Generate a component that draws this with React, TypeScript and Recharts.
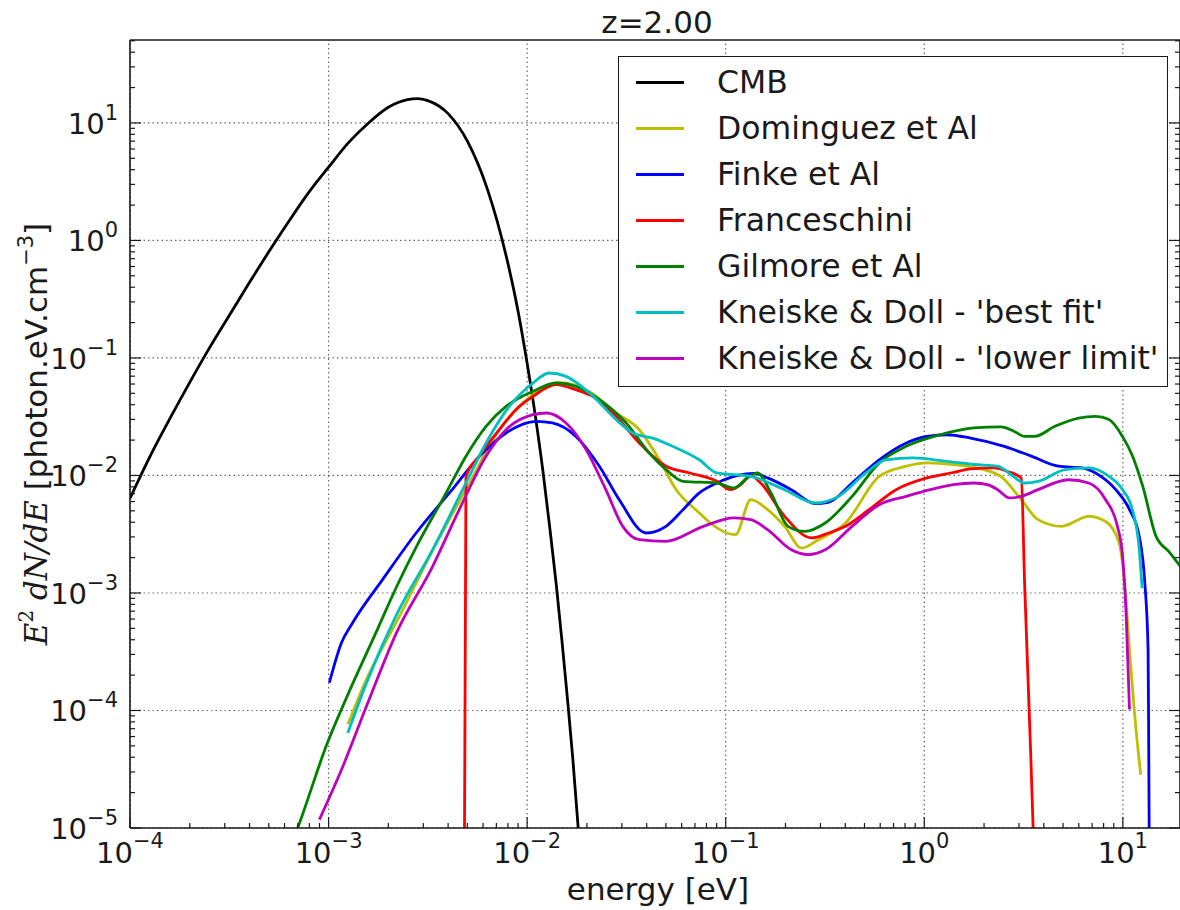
import React from "react";
import { LineChart, Line, XAxis, YAxis, ReferenceLine, Legend } from "recharts";

// axis ranges (right edge sits a bit short of 20 eV)
const X_MIN = 1e-4;
const X_MAX = 19.4;
const Y_MIN = 1e-5;
const Y_MAX = 50.8;

const X_MAJOR = [1e-4, 1e-3, 1e-2, 1e-1, 1, 10];
const Y_MAJOR = [1e-5, 1e-4, 1e-3, 1e-2, 1e-1, 1, 10];
const MINOR_STEPS = [2, 3, 4, 5, 6, 7, 8, 9];
const X_TICKS = [
  ...X_MAJOR,
  ...X_MAJOR.flatMap((d) => MINOR_STEPS.map((m) => m * d)).filter((v) => v < X_MAX),
];
const Y_TICKS = [
  ...Y_MAJOR,
  ...Y_MAJOR.flatMap((d) => MINOR_STEPS.map((m) => m * d)).filter((v) => v < Y_MAX),
];

// energy [eV] / E^2 dN/dE pairs, one pair of arrays per model
const CMB_E = [1e-4, 1.26e-4, 1.58e-4, 2e-4, 2.5e-4, 3.16e-4, 4e-4, 5e-4, 6.3e-4, 8e-4, 1e-3, 1.26e-3, 1.58e-3, 2e-3, 2.5e-3, 2.8e-3, 3.16e-3, 4e-3, 5e-3, 6.3e-3, 7.9e-3, 9e-3, 1e-2, 1.1e-2, 1.2e-2, 1.3e-2, 1.4e-2, 1.5e-2, 1.6e-2, 1.7e-2, 1.8e-2, 1.9e-2];
const CMB_V = [6.4e-3, 1.45e-2, 3.0e-2, 6.2e-2, 0.12, 0.23, 0.44, 0.8, 1.45, 2.6, 4.2, 6.8, 9.9, 13.6, 15.8, 16.1, 15.5, 12.0, 7.0, 2.75, 0.7, 0.25, 0.09, 0.032, 0.011, 3.6e-3, 1.2e-3, 3.8e-4, 1.2e-4, 3.8e-5, 1.1e-5, 3e-6];

const DOM_E = [1.25e-3, 1.55e-3, 2.27e-3, 3.34e-3, 4.92e-3, 7.24e-3, 1.07e-2, 1.45e-2, 2.06e-2, 2.81e-2, 3.67e-2, 4.63e-2, 5.62e-2, 7.36e-2, 8.35e-2, 0.112, 0.1337, 0.1625, 0.198, 0.241, 0.293, 0.401, 0.593, 0.811, 1.03, 1.4, 2.0, 2.43, 3.08, 3.74, 4.92, 6.73, 8.19, 9.58, 10.2, 10.8, 11.65, 12.3];
const DOM_V = [7.6e-5, 1.83e-4, 6.3e-4, 2.3e-3, 7.6e-3, 2.45e-2, 4.87e-2, 6.17e-2, 5.16e-2, 3.4e-2, 2.45e-2, 1.36e-2, 7.6e-3, 4.8e-3, 3.94e-3, 3.13e-3, 6.22e-3, 5.12e-3, 3.69e-3, 2.41e-3, 2.84e-3, 3.94e-3, 9.82e-3, 1.2e-2, 1.28e-2, 1.24e-2, 1.12e-2, 9.82e-3, 6.22e-3, 4.21e-3, 3.69e-3, 4.49e-3, 4.06e-3, 2.67e-3, 1.22e-3, 3.29e-4, 6.9e-5, 2.84e-5];

const FINKE_E = [1.01e-3, 1.16e-3, 1.32e-3, 1.87e-3, 2.76e-3, 4.06e-3, 5.97e-3, 7.83e-3, 1.11e-2, 1.34e-2, 1.76e-2, 2.31e-2, 2.91e-2, 3.97e-2, 5.0e-2, 6.1e-2, 7.36e-2, 9.03e-2, 0.114, 0.139, 0.1625, 0.214, 0.282, 0.329, 0.433, 0.593, 0.779, 1.03, 1.3, 1.71, 2.53, 3.46, 4.73, 6.22, 7.28, 9.21, 10.8, 12.1, 12.9, 13.4, 13.5, 13.6];
const FINKE_V = [1.73e-4, 3.75e-4, 5.56e-4, 1.3e-3, 3.24e-3, 7.1e-3, 1.55e-2, 2.3e-2, 2.89e-2, 2.8e-2, 2.15e-2, 1.2e-2, 6.22e-3, 3.24e-3, 3.69e-3, 5.12e-3, 7.1e-3, 8.63e-3, 9.96e-3, 1.04e-2, 9.53e-3, 7.57e-3, 5.75e-3, 5.9e-3, 8.63e-3, 1.36e-2, 1.83e-2, 2.15e-2, 2.22e-2, 2.08e-2, 1.77e-2, 1.46e-2, 1.2e-2, 1.16e-2, 1.05e-2, 7.57e-3, 5.12e-3, 3.03e-3, 1.22e-3, 3.29e-4, 4.64e-5, 5e-6];

const FRANC_E = [4.83e-3, 4.92e-3, 5.74e-3, 7.24e-3, 8.79e-3, 1.07e-2, 1.4e-2, 1.76e-2, 2.14e-2, 2.81e-2, 3.67e-2, 5.01e-2, 6.6e-2, 9.03e-2, 0.1057, 0.119, 0.1337, 0.15, 0.198, 0.271, 0.33, 0.401, 0.527, 0.721, 1.03, 1.4, 1.71, 2.25, 2.63, 3.08, 3.2, 3.43, 3.58];
const FRANC_V = [5e-6, 9.82e-3, 1.46e-2, 2.45e-2, 3.63e-2, 4.71e-2, 5.93e-2, 5.37e-2, 4.71e-2, 3.18e-2, 1.89e-2, 1.2e-2, 1.05e-2, 8.91e-3, 7.57e-3, 8.35e-3, 9.96e-3, 8.63e-3, 4.49e-3, 2.94e-3, 3.24e-3, 3.69e-3, 5.12e-3, 7.57e-3, 9.53e-3, 1.06e-2, 1.14e-2, 1.16e-2, 1.08e-2, 9.53e-3, 1.22e-3, 4.64e-5, 5e-6];

const GIL_E = [6.2e-4, 6.99e-4, 9.86e-4, 1.24e-3, 1.73e-3, 2.2e-3, 2.77e-3, 3.91e-3, 4.92e-3, 6.21e-3, 7.83e-3, 1.07e-2, 1.4e-2, 1.76e-2, 2.31e-2, 3.15e-2, 4.12e-2, 5.01e-2, 6.1e-2, 9.03e-2, 0.11, 0.1284, 0.1445, 0.169, 0.206, 0.25, 0.317, 0.433, 0.593, 0.811, 1.2, 1.78, 2.43, 2.84, 3.2, 3.6, 4.55, 5.99, 7.28, 8.52, 9.97, 11.2, 12.6, 14.7, 17.1, 20.4];
const GIL_V = [5.9e-6, 1.0e-5, 5.28e-5, 1.32e-4, 4.57e-4, 1.13e-3, 2.48e-3, 7.1e-3, 1.46e-2, 2.62e-2, 3.87e-2, 5.2e-2, 6.12e-2, 5.73e-2, 4.42e-2, 2.8e-2, 1.55e-2, 1.12e-2, 8.91e-3, 8.63e-3, 7.83e-3, 9.53e-3, 1.05e-2, 7.1e-3, 3.69e-3, 3.34e-3, 3.94e-3, 6.64e-3, 1.28e-2, 1.77e-2, 2.22e-2, 2.54e-2, 2.59e-2, 2.37e-2, 2.15e-2, 2.15e-2, 2.62e-2, 3.08e-2, 3.18e-2, 2.99e-2, 2.14e-2, 1.46e-2, 8.07e-3, 3.03e-3, 2.24e-3, 1.52e-3];

const KD_BEST_E = [1.25e-3, 1.55e-3, 2.2e-3, 3.34e-3, 4.92e-3, 6.21e-3, 8.13e-3, 1.07e-2, 1.29e-2, 1.57e-2, 2.06e-2, 2.81e-2, 3.4e-2, 4.29e-2, 5.4e-2, 7.36e-2, 9.03e-2, 0.1337, 0.198, 0.282, 0.37, 0.507, 0.641, 0.877, 1.3, 1.78, 2.34, 2.73, 3.2, 3.74, 5.12, 6.73, 8.52, 9.97, 11.2, 12.1, 12.5];
const KD_BEST_V = [6.44e-5, 1.71e-4, 6.53e-4, 2.33e-3, 8.63e-3, 1.89e-2, 3.87e-2, 6.12e-2, 7.45e-2, 6.97e-2, 5.04e-2, 2.99e-2, 2.3e-2, 2.08e-2, 1.77e-2, 1.36e-2, 1.05e-2, 9.82e-3, 7.57e-3, 5.83e-3, 6.64e-3, 1.05e-2, 1.36e-2, 1.41e-2, 1.32e-2, 1.24e-2, 1.2e-2, 1.02e-2, 8.63e-3, 8.91e-3, 1.12e-2, 1.16e-2, 9.82e-3, 7.57e-3, 5.04e-3, 2.33e-3, 1.1e-3];

const KD_LOW_E = [8.99e-4, 1.18e-3, 1.55e-3, 2.2e-3, 3.34e-3, 4.55e-3, 6.21e-3, 7.83e-3, 1.07e-2, 1.25e-2, 1.57e-2, 1.98e-2, 2.49e-2, 3.03e-2, 3.67e-2, 5.0e-2, 7.72e-2, 0.11, 0.1337, 0.1625, 0.214, 0.26, 0.317, 0.433, 0.593, 0.811, 1.07, 1.4, 1.78, 2.08, 2.34, 2.68, 3.08, 3.74, 5.32, 6.73, 8.19, 9.39, 9.97, 10.4, 10.8];
const KD_LOW_V = [1.18e-5, 3.34e-5, 1.08e-4, 4.6e-4, 1.68e-3, 5.12e-3, 1.46e-2, 2.45e-2, 3.29e-2, 3.4e-2, 2.8e-2, 1.66e-2, 7.57e-3, 3.69e-3, 2.84e-3, 2.75e-3, 3.69e-3, 4.35e-3, 4.21e-3, 3.46e-3, 2.33e-3, 2.12e-3, 2.33e-3, 3.69e-3, 5.64e-3, 6.64e-3, 7.57e-3, 8.35e-3, 8.63e-3, 8.35e-3, 7.57e-3, 6.44e-3, 6.64e-3, 7.57e-3, 9.2e-3, 8.63e-3, 6.22e-3, 3.69e-3, 2.05e-3, 6.32e-4, 1.02e-4];

// matplotlib "classic" single-letter colours
const SERIES = [
  { name: "CMB", color: "#000000", e: CMB_E, v: CMB_V },
  { name: "Dominguez et Al", color: "#bfbf00", e: DOM_E, v: DOM_V },
  { name: "Finke et Al", color: "#0000ff", e: FINKE_E, v: FINKE_V },
  { name: "Franceschini", color: "#ff0000", e: FRANC_E, v: FRANC_V },
  { name: "Gilmore et Al", color: "#008000", e: GIL_E, v: GIL_V },
  { name: "Kneiske & Doll - 'best fit'", color: "#00bfbf", e: KD_BEST_E, v: KD_BEST_V },
  { name: "Kneiske & Doll - 'lower limit'", color: "#bf00bf", e: KD_LOW_E, v: KD_LOW_V },
];

const INK = "#1a1a1a";
const FONT = "DejaVu Sans";
const MAJOR_LEN = 11;
const MINOR_LEN = 5;
const SPINE = { stroke: INK, strokeWidth: 1.6 };

const toRows = (e: number[], v: number[]) => e.map((x, i) => ({ x, y: v[i] }));

const isMajor = (v: number) => Math.abs(Math.log10(v) - Math.round(Math.log10(v))) < 1e-6;
const expOf = (v: number) => {
  const n = Math.round(Math.log10(v));
  return n < 0 ? `\u2212${-n}` : `${n}`;
};

type TickProps = { x?: number; y?: number; payload?: { value: number } };

function BottomTick({ x = 0, y = 0, payload }: TickProps) {
  const v = payload?.value ?? 2;
  const major = isMajor(v);
  return (
    <g>
      <line x1={x} x2={x} y1={y} y2={y - (major ? MAJOR_LEN : MINOR_LEN)} stroke={INK} strokeWidth={1.2} />
      {major && (
        <text x={x} y={y + 35} textAnchor="middle" fill={INK} fontFamily={FONT} fontSize={29}>
          10
          <tspan dy={-15} fontSize={21}>
            {expOf(v)}
          </tspan>
        </text>
      )}
    </g>
  );
}

function TopTick({ x = 0, y = 0, payload }: TickProps) {
  const major = isMajor(payload?.value ?? 2);
  return <line x1={x} x2={x} y1={y} y2={y + (major ? MAJOR_LEN : MINOR_LEN)} stroke={INK} strokeWidth={1.2} />;
}

function LeftTick({ x = 0, y = 0, payload }: TickProps) {
  const v = payload?.value ?? 2;
  const major = isMajor(v);
  return (
    <g>
      <line x1={x} x2={x + (major ? MAJOR_LEN : MINOR_LEN)} y1={y} y2={y} stroke={INK} strokeWidth={1.2} />
      {major && (
        <text x={x - 12} y={y + 11} textAnchor="end" fill={INK} fontFamily={FONT} fontSize={29}>
          10
          <tspan dy={-14} fontSize={21}>
            {expOf(v)}
          </tspan>
        </text>
      )}
    </g>
  );
}

function RightTick({ x = 0, y = 0, payload }: TickProps) {
  const major = isMajor(payload?.value ?? 2);
  return <line x1={x} x2={x - (major ? MAJOR_LEN : MINOR_LEN)} y1={y} y2={y} stroke={INK} strokeWidth={1.2} />;
}

type Box = { viewBox?: { x: number; y: number; width: number; height: number } };

function Title({ viewBox }: Box) {
  if (!viewBox) return null;
  return (
    <text x={viewBox.x + viewBox.width / 2 + 2} y={viewBox.y + 33} textAnchor="middle" fill={INK} fontFamily={FONT} fontSize={31}>
      z=2.00
    </text>
  );
}

function XLabel({ viewBox }: Box) {
  if (!viewBox) return null;
  return (
    <text x={viewBox.x + viewBox.width / 2 + 3} y={viewBox.y + 72} textAnchor="middle" fill={INK} fontFamily={FONT} fontSize={31}>
      energy [eV]
    </text>
  );
}

function YLabel({ viewBox }: Box) {
  if (!viewBox) return null;
  const bx = viewBox.x + 47;
  const cy = viewBox.y + viewBox.height / 2;
  return (
    <text x={bx} y={cy} transform={`rotate(-90, ${bx}, ${cy})`} textAnchor="middle" fill={INK} fontFamily={FONT} fontSize={31}>
      <tspan fontFamily="DejaVu Serif" fontStyle="italic">E</tspan>
      <tspan fontFamily="DejaVu Serif" fontSize={20} dy={-14}>2</tspan>
      <tspan fontFamily="DejaVu Serif" fontStyle="italic" dy={14}> dN/dE</tspan>
      <tspan> [photon.eV.cm</tspan>
      <tspan fontSize={21} dy={-14}>{"\u22123"}</tspan>
      <tspan dy={14}>]</tspan>
    </text>
  );
}

function LegendBox({ payload }: { payload?: { value: string; color: string }[] }) {
  return (
    <div
      style={{
        width: 550,
        height: 331,
        boxSizing: "border-box",
        border: `1.6px solid ${INK}`,
        background: "#fff",
        paddingTop: 2,
        fontFamily: FONT,
        fontSize: 31.5,
        color: INK,
      }}
    >
      {(payload ?? []).map((p) => (
        <div key={p.value} style={{ display: "flex", alignItems: "center", height: 46, whiteSpace: "nowrap" }}>
          <span style={{ marginLeft: 17, width: 48, borderTop: `3px solid ${p.color}` }} />
          <span style={{ marginLeft: 33, lineHeight: "46px" }}>{p.value}</span>
        </div>
      ))}
    </div>
  );
}

export default function App() {
  return (
    <div style={{ position: "absolute", left: 0, top: 0, width: 1180, height: 910, overflow: "hidden", background: "#fff" }}>
      <LineChart width={1200} height={910} margin={{ top: 0, right: 0, bottom: 0, left: 0 }}>
        <XAxis
          xAxisId="x"
          type="number"
          dataKey="x"
          scale="log"
          domain={[X_MIN, X_MAX]}
          allowDataOverflow
          ticks={X_TICKS}
          interval={0}
          tickSize={0}
          tickMargin={0}
          tickLine={false}
          tick={<BottomTick />}
          axisLine={SPINE}
          height={82}
          label={<XLabel />}
        />
        <XAxis
          xAxisId="top"
          orientation="top"
          type="number"
          scale="log"
          domain={[X_MIN, X_MAX]}
          allowDataOverflow
          ticks={X_TICKS}
          interval={0}
          tickSize={0}
          tickMargin={0}
          tickLine={false}
          tick={<TopTick />}
          axisLine={SPINE}
          height={40}
          label={<Title />}
        />
        <YAxis
          yAxisId="y"
          type="number"
          scale="log"
          domain={[Y_MIN, Y_MAX]}
          allowDataOverflow
          ticks={Y_TICKS}
          interval={0}
          tickSize={0}
          tickMargin={0}
          tickLine={false}
          tick={<LeftTick />}
          axisLine={SPINE}
          width={130}
          label={<YLabel />}
        />
        <YAxis
          yAxisId="right"
          orientation="right"
          type="number"
          scale="log"
          domain={[Y_MIN, Y_MAX]}
          allowDataOverflow
          ticks={Y_TICKS}
          interval={0}
          tickSize={0}
          tickMargin={0}
          tickLine={false}
          tick={<RightTick />}
          axisLine={SPINE}
          width={20}
        />
        {X_MAJOR.map((v) => (
          <ReferenceLine key={`gx${v}`} xAxisId="x" yAxisId="y" x={v} stroke="#666" strokeWidth={1.2} strokeDasharray="1.5 3" />
        ))}
        {Y_MAJOR.map((v) => (
          <ReferenceLine key={`gy${v}`} xAxisId="x" yAxisId="y" y={v} stroke="#666" strokeWidth={1.2} strokeDasharray="1.5 3" />
        ))}
        {SERIES.map((s) => (
          <Line
            key={s.name}
            xAxisId="x"
            yAxisId="y"
            data={toRows(s.e, s.v)}
            dataKey="y"
            name={s.name}
            type="monotone"
            stroke={s.color}
            strokeWidth={2.8}
            dot={false}
            activeDot={false}
            isAnimationActive={false}
          />
        ))}
        <Legend
          layout="horizontal"
          align="center"
          verticalAlign="middle"
          content={<LegendBox />}
          wrapperStyle={{ left: 618, top: 56, width: 550, height: 331 }}
        />
      </LineChart>
    </div>
  );
}
